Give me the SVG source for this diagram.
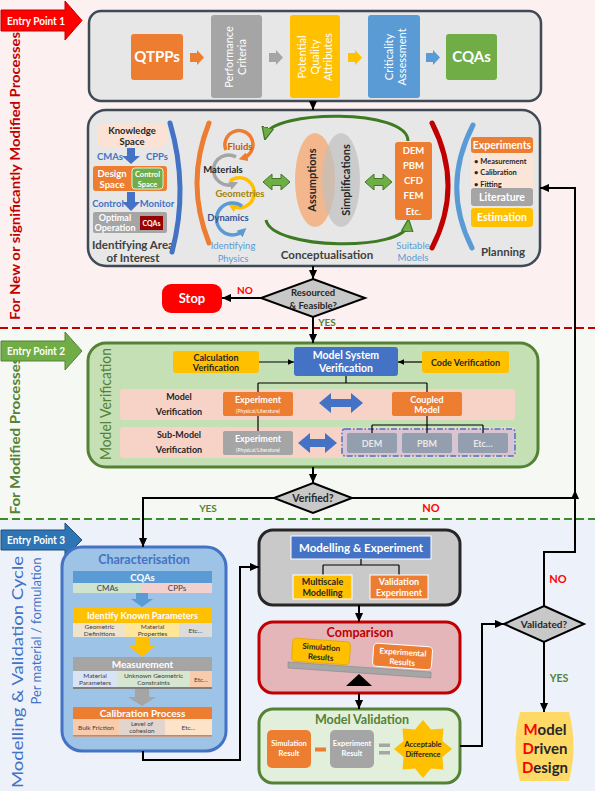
<svg xmlns="http://www.w3.org/2000/svg" width="595" height="791" viewBox="0 0 595 791">
<defs>
<style>
text{font-family:Lato,'Open Sans','Liberation Sans',sans-serif;text-anchor:middle}
.b{font-weight:700}
.w{fill:#fff}
.d{fill:#262626}
.l{text-anchor:start}
.c{stroke:#000;stroke-width:2;fill:none}
.cs{stroke:#000;stroke-width:1.2;fill:none}
.arc{fill:none;stroke-width:5;stroke-linecap:round}
.ph{fill:none;stroke-width:3.5}
</style>
<marker id="ah" viewBox="0 0 10 10" refX="10" refY="5" markerWidth="9" markerHeight="9" markerUnits="userSpaceOnUse" orient="auto"><path d="M0,0.5 L10,5 L0,9.5 Z" fill="#000"/></marker>
<marker id="ahs" viewBox="0 0 10 10" refX="10" refY="5" markerWidth="6" markerHeight="6" markerUnits="userSpaceOnUse" orient="auto"><path d="M0,0.5 L10,5 L0,9.5 Z" fill="#000"/></marker>
<marker id="ahg" viewBox="0 0 10 10" refX="6" refY="5" markerWidth="13" markerHeight="13" markerUnits="userSpaceOnUse" orient="auto"><path d="M0,0.5 L10,5 L0,9.5 Z" fill="#70ad47" stroke="#3d7a22" stroke-width="1"/></marker>
<marker id="mo" viewBox="0 0 10 10" refX="5" refY="5" markerWidth="9" markerHeight="9" markerUnits="userSpaceOnUse" orient="auto"><path d="M0,0 L10,5 L0,10 Z" fill="#ed7d31"/></marker>
<marker id="mg" viewBox="0 0 10 10" refX="5" refY="5" markerWidth="9" markerHeight="9" markerUnits="userSpaceOnUse" orient="auto"><path d="M0,0 L10,5 L0,10 Z" fill="#a5a5a5"/></marker>
<marker id="my" viewBox="0 0 10 10" refX="5" refY="5" markerWidth="9" markerHeight="9" markerUnits="userSpaceOnUse" orient="auto"><path d="M0,0 L10,5 L0,10 Z" fill="#ffc000"/></marker>
<marker id="mb" viewBox="0 0 10 10" refX="5" refY="5" markerWidth="9" markerHeight="9" markerUnits="userSpaceOnUse" orient="auto"><path d="M0,0 L10,5 L0,10 Z" fill="#5b9bd5"/></marker>
</defs>

<!-- section backgrounds -->
<rect x="0" y="0" width="595" height="328" fill="#fdf0f0"/>
<rect x="0" y="328" width="595" height="191" fill="#f6f9f3"/>
<rect x="0" y="519" width="595" height="272" fill="#edf1f9"/>
<line x1="0" y1="328" x2="595" y2="328" stroke="#c00000" stroke-width="2" stroke-dasharray="8 4"/>
<line x1="0" y1="519" x2="595" y2="519" stroke="#3d8b25" stroke-width="2" stroke-dasharray="8 4"/>

<!-- side labels -->
<text class="b" font-size="14" fill="#c00000" transform="translate(20,176) rotate(-90)" textLength="288" lengthAdjust="spacingAndGlyphs">For New or significantly Modified Processes</text>
<text class="b" font-size="14" fill="#548235" transform="translate(20,436) rotate(-90)" textLength="157" lengthAdjust="spacingAndGlyphs">For Modified Processes</text>
<text font-size="16" fill="#4472c4" transform="translate(23,672) rotate(-90)" textLength="232" lengthAdjust="spacingAndGlyphs">Modelling &amp; Validation Cycle</text>
<text font-size="12.5" fill="#4472c4" transform="translate(41,631) rotate(-90)" textLength="147" lengthAdjust="spacingAndGlyphs">Per material / formulation</text>

<!-- entry points -->
<g id="entry1">
<polygon points="1,10 65,10 65,1 82,20.5 65,40 65,31 1,31" fill="#ff0000" stroke="#c00000" stroke-width="1"/>
<text x="36" y="24.5" class="b w" font-size="11" textLength="58" lengthAdjust="spacingAndGlyphs">Entry Point 1</text>
</g>
<g id="entry2">
<polygon points="1,341 65,341 65,332 82,351 65,370 65,361 1,361" fill="#70ad47" stroke="#548235" stroke-width="1"/>
<text x="36" y="355" class="b w" font-size="11" textLength="58" lengthAdjust="spacingAndGlyphs">Entry Point 2</text>
</g>
<g id="entry3">
<polygon points="1,530 65,530 65,523 82,540 65,557 65,550 1,550" fill="#2e75b6" stroke="#1f4e79" stroke-width="1"/>
<text x="36" y="544" class="b w" font-size="11" textLength="58" lengthAdjust="spacingAndGlyphs">Entry Point 3</text>
</g>

<!-- top row -->
<g id="qbd">
<rect x="89" y="11" width="452" height="90" rx="12" fill="#e7e7e7" stroke="#3f4a55" stroke-width="2.5"/>
<g id="qtpps"><rect x="131" y="34" width="52" height="46" rx="3" fill="#ed7d31"/><text x="157" y="62" class="b w" font-size="15">QTPPs</text></g>
<polygon points="190,53 197,53 197,50 204,57.5 197,65 197,62 190,62" fill="#ed7d31"/>
<g id="perf"><rect x="211" y="15" width="51" height="83" rx="3" fill="#a5a5a5"/>
<text class="w" font-size="11" transform="translate(233,57) rotate(-90)">Performance</text>
<text class="w" font-size="11" transform="translate(246,57) rotate(-90)">Criteria</text></g>
<polygon points="269,53 276,53 276,50 283,57.5 276,65 276,62 269,62" fill="#a5a5a5"/>
<g id="pqa"><rect x="290" y="15" width="50" height="83" rx="3" fill="#ffc000"/>
<text class="w" font-size="11" transform="translate(306,57) rotate(-90)">Potential</text>
<text class="w" font-size="11" transform="translate(319,57) rotate(-90)">Quality</text>
<text class="w" font-size="11" transform="translate(332,57) rotate(-90)">Attributes</text></g>
<polygon points="348,53 355,53 355,50 362,57.5 355,65 355,62 348,62" fill="#ffc000"/>
<g id="crit"><rect x="368" y="15" width="52" height="83" rx="3" fill="#5b9bd5"/>
<text class="w" font-size="11" transform="translate(393,57) rotate(-90)">Criticality</text>
<text class="w" font-size="11" transform="translate(406,57) rotate(-90)">Assessment</text></g>
<polygon points="426,53 433,53 433,50 440,57.5 433,65 433,62 426,62" fill="#5b9bd5"/>
<g id="cqas"><rect x="446" y="34" width="51" height="46" rx="3" fill="#70ad47"/><text x="471.5" y="62" class="b w" font-size="15">CQAs</text></g>
</g>

<!-- box 2 -->
<g id="concept">
<rect x="88" y="110" width="452" height="156" rx="18" fill="#e7e7e7" stroke="#3f4a55" stroke-width="2.5"/>
<g id="area">
<rect x="97" y="123" width="70" height="24" rx="6" fill="#fbe2d5"/>
<text x="132" y="134" class="b d" font-size="9.5">Knowledge</text>
<text x="132" y="145" class="b d" font-size="9.5">Space</text>
<polygon points="127,148 135,148 135,156 140,156 131,164 122,156 127,156" fill="#4472c4"/>
<text x="110" y="160" class="b" font-size="9.5" fill="#4472c4">CMAs</text>
<text x="157" y="160" class="b" font-size="9.5" fill="#4472c4">CPPs</text>
<rect x="93" y="166" width="74" height="25" rx="3" fill="#ed7d31"/>
<text x="112" y="177" class="b w" font-size="9.5">Design</text>
<text x="112" y="188" class="b w" font-size="9.5">Space</text>
<rect x="132" y="168" width="31" height="21" rx="3" fill="#70ad47" stroke="#fff" stroke-width="0.8"/>
<text x="147.5" y="177" class="b w" font-size="7.5">Control</text>
<text x="147.5" y="186.5" class="b w" font-size="7.5">Space</text>
<polygon points="127,192 135,192 135,202 140,202 131,211 122,202 127,202" fill="#4472c4"/>
<text x="108" y="207" class="b" font-size="9.5" fill="#4472c4">Control</text>
<text x="157" y="207" class="b" font-size="9.5" fill="#4472c4">Monitor</text>
<rect x="93" y="212" width="74" height="21" rx="2" fill="#a5a5a5"/>
<text x="115" y="221" class="b w" font-size="9">Optimal</text>
<text x="115" y="231" class="b w" font-size="9">Operation</text>
<rect x="140" y="216" width="23" height="14" fill="#990000"/>
<text x="151.5" y="225.5" class="b w" font-size="7">CQAs</text>
<text x="133" y="249" class="b" font-size="11.5" fill="#404040">Identifying Area</text>
<text x="133" y="262" class="b" font-size="11.5" fill="#404040">of Interest</text>
</g>
<path class="arc" stroke="#4472c4" d="M170,123 Q189,188 172,252"/>
<path class="arc" stroke="#ed7d31" d="M209,123 Q185,183 209,243"/>
<g id="physics">
<path class="ph" stroke="#ed7d31" d="M226,150 A14,14 0 1 1 243,158" marker-end="url(#mo)"/>
<path class="ph" stroke="#a5a5a5" d="M236,157 A15,15 0 1 0 234,184" marker-end="url(#mg)"/>
<path class="ph" stroke="#ffc000" d="M230,181 A15,15 0 1 1 232,206" marker-end="url(#my)"/>
<path class="ph" stroke="#5b9bd5" d="M242,206 A16,16 0 1 0 243,231" marker-end="url(#mb)"/>
<text x="240" y="150" class="b" font-size="9.5" fill="#c55a11">Fluids</text>
<text x="223" y="173" class="b d" font-size="9.5">Materials</text>
<text x="240" y="197" class="b" font-size="9.5" fill="#a68000">Geometries</text>
<text x="228" y="221" class="b" font-size="9.5" fill="#2f5597">Dynamics</text>
<text x="233" y="249" font-size="9.5" fill="#5b9bd5">Identifying</text>
<text x="233" y="262" font-size="9.5" fill="#5b9bd5">Physics</text>
</g>
<path d="M408,141 C408,108 272,110 266,135" fill="none" stroke="#3d7a22" stroke-width="3" marker-end="url(#ahg)"/>
<path d="M266,220 C272,250 405,252 408,224" fill="none" stroke="#3d7a22" stroke-width="3" marker-end="url(#ahg)"/>
<polygon points="263,182 272,174 272,178.5 281,178.5 281,174 290,182 281,190 281,185.5 272,185.5 272,190" fill="#70ad47" stroke="#3d7a22" stroke-width="1"/>
<polygon points="365,182 374,174 374,178.5 383,178.5 383,174 392,182 383,190 383,185.5 374,185.5 374,190" fill="#70ad47" stroke="#3d7a22" stroke-width="1"/>
<ellipse cx="315" cy="180" rx="20" ry="47" fill="#f4b183" opacity="0.9"/>
<ellipse cx="341" cy="180" rx="19" ry="47" fill="#bfbfbf" opacity="0.7"/>
<text class="b d" font-size="11" transform="translate(316,180) rotate(-90)">Assumptions</text>
<text class="b d" font-size="11" transform="translate(350,180) rotate(-90)">Simplifications</text>
<rect x="395" y="142" width="37" height="78" rx="3" fill="#ed7d31"/>
<text x="413.5" y="153.5" class="b w" font-size="9.5">DEM</text>
<text x="413.5" y="169" class="b w" font-size="9.5">PBM</text>
<text x="413.5" y="184" class="b w" font-size="9.5">CFD</text>
<text x="413.5" y="199" class="b w" font-size="9.5">FEM</text>
<text x="413.5" y="214.5" class="b w" font-size="9.5">Etc.</text>
<text x="327" y="259" class="b" font-size="11.5" fill="#404040">Conceptualisation</text>
<text x="413" y="249" font-size="9.5" fill="#5b9bd5">Suitable</text>
<text x="413" y="261" font-size="9.5" fill="#5b9bd5">Models</text>
<path class="arc" stroke="#c00000" d="M432,123 Q464,186 432,248"/>
<path class="arc" stroke="#5b9bd5" d="M473,125 Q441,187 472,248"/>
<g id="planning">
<rect x="471" y="137" width="62" height="16" rx="3" fill="#ed7d31"/>
<text x="502" y="149" class="b w" font-size="10.5">Experiments</text>
<rect x="471" y="153" width="62" height="35" fill="#fbe5d6"/>
<text x="474" y="163.5" class="b d l" font-size="7.5">• Measurement</text>
<text x="474" y="175" class="b d l" font-size="7.5">• Calibration</text>
<text x="474" y="186.5" class="b d l" font-size="7.5">• Fitting</text>
<rect x="471" y="188" width="62" height="18" rx="3" fill="#a5a5a5"/>
<text x="502" y="201" class="b w" font-size="10.5">Literature</text>
<rect x="471" y="208" width="62" height="19" rx="3" fill="#ffc000"/>
<text x="502" y="221" class="b w" font-size="10.5">Estimation</text>
<text x="503" y="256" class="b" font-size="11.5" fill="#404040">Planning</text>
</g>
</g>

<!-- decision 1 -->
<g id="resourced">
<polygon points="313,279 365,298 313,317 261,298" fill="#c8c8c8" stroke="#000" stroke-width="2"/>
<text x="313" y="296" class="b d" font-size="9.5">Resourced</text>
<text x="313" y="309" class="b d" font-size="9.5">&amp; Feasible?</text>
</g>
<g id="stop">
<rect x="162" y="284" width="60" height="29" rx="9" fill="#ff0000"/>
<text x="192" y="303" class="b w" font-size="13">Stop</text>
</g>

<!-- model verification -->
<g id="modelverif">
<rect x="88" y="343" width="450" height="124" rx="18" fill="#c5e0b4" stroke="#548235" stroke-width="3"/>
<text font-size="16" fill="#548235" transform="translate(111,404) rotate(-90)" textLength="112" lengthAdjust="spacingAndGlyphs">Model Verification</text>
<g id="calcver"><rect x="173" y="351" width="86" height="22" rx="3" fill="#ffc000"/>
<text x="216" y="361" class="b d" font-size="9">Calculation</text>
<text x="216" y="371" class="b d" font-size="9">Verification</text></g>
<g id="msv"><rect x="294" y="347" width="104" height="29" rx="3" fill="#4472c4"/>
<text x="346" y="359" class="b w" font-size="10.5">Model System</text>
<text x="346" y="371.5" class="b w" font-size="10.5">Verification</text></g>
<g id="codever"><rect x="422" y="351" width="87" height="22" rx="3" fill="#ffc000"/>
<text x="465.5" y="365.5" class="b d" font-size="9">Code Verification</text></g>
<rect x="120" y="389" width="395" height="31" rx="3" fill="#f6d3c6"/>
<rect x="120" y="427" width="395" height="31" rx="3" fill="#f6d3c6"/>
<text x="179" y="400" class="b d" font-size="9">Model</text>
<text x="179" y="415" class="b d" font-size="9">Verification</text>
<text x="179" y="438" class="b d" font-size="9">Sub-Model</text>
<text x="179" y="453" class="b d" font-size="9">Verification</text>
<g id="exp1"><rect x="223" y="392" width="70" height="24" rx="2" fill="#ed7d31"/>
<text x="258" y="403" class="b w" font-size="9">Experiment</text>
<text x="258" y="412.5" class="w" font-size="5">(Physical/Literature)</text></g>
<polygon points="319,403 331,393 331,399 351,399 351,393 363,403 351,413 351,407 331,407 331,413" fill="#4472c4"/>
<g id="coupled"><rect x="392" y="392" width="70" height="24" rx="2" fill="#ed7d31"/>
<text x="427" y="402.5" class="b w" font-size="9">Coupled</text>
<text x="427" y="413" class="b w" font-size="9">Model</text></g>
<g id="exp2"><rect x="223" y="431" width="70" height="24" rx="2" fill="#a5a5a5"/>
<text x="258" y="442" class="b w" font-size="9">Experiment</text>
<text x="258" y="451.5" class="w" font-size="5">(Physical/Literature)</text></g>
<polygon points="298,443 310,433 310,439 325,439 325,433 337,443 325,453 325,447 310,447 310,453" fill="#4472c4"/>
<rect x="342" y="429" width="173" height="27" rx="3" fill="#d8c4d3" stroke="#4472c4" stroke-width="1.5" stroke-dasharray="6 2 1.5 2"/>
<g id="subdem"><rect x="347" y="433" width="50" height="20" rx="2" fill="#939eae"/><text x="372" y="446.5" class="b" font-size="9" fill="#e8e8e8">DEM</text></g>
<g id="subpbm"><rect x="402" y="433" width="50" height="20" rx="2" fill="#939eae"/><text x="427" y="446.5" class="b" font-size="9" fill="#e8e8e8">PBM</text></g>
<g id="subetc"><rect x="458" y="433" width="50" height="20" rx="2" fill="#939eae"/><text x="483" y="446.5" class="b" font-size="9" fill="#e8e8e8">Etc…</text></g>
</g>

<g id="verified">
<polygon points="313,483 352,498 313,513 274,498" fill="#c8c8c8" stroke="#000" stroke-width="2"/>
<text x="313" y="502" class="b d" font-size="10.5">Verified?</text>
</g>

<!-- characterisation -->
<g id="character">
<rect x="62" y="547" width="164" height="204" rx="20" fill="#9dc3e6" stroke="#4472c4" stroke-width="3"/>
<text x="144" y="564" class="b" font-size="12.5" fill="#4472c4">Characterisation</text>
<rect x="73" y="571" width="139" height="12" fill="#5b9bd5"/>
<text x="142.5" y="580.5" class="b w" font-size="9.5">CQAs</text>
<rect x="73" y="583" width="69" height="10" fill="#cfe3cf"/>
<rect x="142" y="583" width="70" height="10" fill="#f2d0cf"/>
<text x="107.5" y="591" font-size="8" fill="#404040">CMAs</text>
<text x="177" y="591" font-size="8" fill="#404040">CPPs</text>
<polygon points="136,593 148,593 148,599 153,599 142,607 131,599 136,599" fill="#5b9bd5"/>
<rect x="73" y="607" width="139" height="16" fill="#ffc000"/>
<text x="142.5" y="619" class="b w" font-size="10" textLength="111" lengthAdjust="spacingAndGlyphs">Identify Known Parameters</text>
<rect x="73" y="623" width="53" height="14" fill="#efe3cc"/>
<rect x="126" y="623" width="53" height="14" fill="#ffe699"/>
<rect x="179" y="623" width="33" height="14" fill="#dcdcdc"/>
<text x="99.5" y="629" font-size="6.5" fill="#404040">Geometric</text>
<text x="99.5" y="636" font-size="6.5" fill="#404040">Definitions</text>
<text x="152.5" y="629" font-size="6.5" fill="#404040">Material</text>
<text x="152.5" y="636" font-size="6.5" fill="#404040">Properties</text>
<text x="195.5" y="632.5" font-size="6.5" fill="#404040">Etc…</text>
<polygon points="135,637 149,637 149,646 155,646 142,657 129,646 135,646" fill="#ffc000"/>
<rect x="73" y="657" width="139" height="14" fill="#a5a5a5"/>
<text x="142.5" y="668" class="b w" font-size="10">Measurement</text>
<rect x="73" y="671" width="44" height="16" fill="#dae3f3"/>
<rect x="117" y="671" width="73" height="16" fill="#d6e6d0"/>
<rect x="190" y="671" width="22" height="16" fill="#f8cbad"/>
<rect x="73" y="687" width="139" height="2" fill="#7f7f7f"/>
<text x="95" y="678" font-size="6.5" fill="#404040">Material</text>
<text x="95" y="685" font-size="6.5" fill="#404040">Parameters</text>
<text x="153.5" y="678" font-size="6.5" fill="#404040">Unknown Geometric</text>
<text x="153.5" y="685" font-size="6.5" fill="#404040">Constraints</text>
<text x="201" y="682" font-size="6.5" fill="#404040">Etc…</text>
<polygon points="135,689 149,689 149,697 156,697 142,706 128,697 135,697" fill="#a5a5a5"/>
<rect x="73" y="707" width="139" height="12" fill="#ed7d31"/>
<text x="142.5" y="717" class="b w" font-size="10">Calibration Process</text>
<rect x="73" y="719" width="46" height="16" fill="#f8cbad"/>
<rect x="119" y="719" width="46" height="16" fill="#e2d5ce"/>
<rect x="165" y="719" width="47" height="16" fill="#fde3c8"/>
<rect x="73" y="735" width="139" height="1.5" fill="#ed7d31"/>
<text x="96" y="730" font-size="6.5" fill="#404040">Bulk Friction</text>
<text x="142" y="726" font-size="6.5" fill="#404040">Level of</text>
<text x="142" y="733" font-size="6.5" fill="#404040">cohesion</text>
<text x="188.5" y="730" font-size="6.5" fill="#404040">Etc…</text>
</g>

<!-- modelling & experiment -->
<g id="modexp">
<rect x="259" y="530" width="201" height="75" rx="14" fill="#c9c9c9" stroke="#262626" stroke-width="3"/>
<rect x="291" y="536" width="140" height="23" fill="#4472c4" stroke="#fff" stroke-width="1"/>
<text x="361" y="552" class="b w" font-size="11.5">Modelling &amp; Experiment</text>
<path class="cs" stroke-width="1.5" d="M361,559 V565 M323,565 H399 M323,565 V575 M399,565 V575"/>
<rect x="293" y="575" width="59" height="24" fill="#ffc000" stroke="#fff" stroke-width="1"/>
<text x="322.5" y="585" class="b d" font-size="9">Multiscale</text>
<text x="322.5" y="596" class="b d" font-size="9">Modelling</text>
<rect x="370" y="575" width="58" height="24" fill="#ed7d31" stroke="#fff" stroke-width="1"/>
<text x="399" y="585" class="b w" font-size="9">Validation</text>
<text x="399" y="596" class="b w" font-size="9">Experiment</text>
</g>

<g id="comparison">
<rect x="259" y="622" width="201" height="71" rx="14" fill="#e4b6ba" stroke="#c00000" stroke-width="3"/>
<text x="360" y="637" class="b" font-size="12.5" fill="#c00000">Comparison</text>
<polygon points="288,662 431,672 431,678 288,668" fill="#a6a6a6" stroke="#7f7f7f" stroke-width="0.5"/>
<g transform="rotate(4,321,652)">
<rect x="292" y="640" width="58" height="23" rx="4" fill="#ffc000" stroke="#e0a800" stroke-width="0.8"/>
<text x="321" y="650" class="b d" font-size="8">Simulation</text>
<text x="321" y="660" class="b d" font-size="8">Results</text>
</g>
<g transform="rotate(4,402,657)">
<rect x="373" y="645" width="59" height="23" rx="4" fill="#ed7d31" stroke="#fff" stroke-width="1"/>
<text x="402.5" y="655" class="b w" font-size="8">Experimental</text>
<text x="402.5" y="665" class="b w" font-size="8">Results</text>
</g>
<polygon points="359,674 372,686 346,686" fill="#000"/>
</g>

<g id="modelvalid">
<rect x="259" y="709" width="201" height="74" rx="14" fill="#e2efda" stroke="#548235" stroke-width="3"/>
<text x="362" y="724" class="b" font-size="12.5" fill="#548235">Model Validation</text>
<rect x="267" y="730" width="44" height="38" rx="5" fill="#ed7d31"/>
<text x="289" y="746" class="b w" font-size="7.5">Simulation</text>
<text x="289" y="756" class="b w" font-size="7.5">Result</text>
<rect x="315" y="747.5" width="11" height="4" fill="#ed7d31"/>
<rect x="330" y="730" width="44" height="38" rx="5" fill="#a5a5a5"/>
<text x="352" y="746" class="b w" font-size="7.5">Experiment</text>
<text x="352" y="756" class="b w" font-size="7.5">Result</text>
<rect x="379" y="743.5" width="11" height="3.5" fill="#a5a5a5"/>
<rect x="379" y="751" width="11" height="3.5" fill="#a5a5a5"/>
<polygon points="452,749 442.4,757 443.5,769.5 431,768.4 423,778 415,768.4 402.5,769.5 403.6,757 394,749 403.6,741 402.5,728.5 415,729.6 423,720 431,729.6 443.5,728.5 442.4,741" fill="#ffc000"/>
<text x="423" y="747" class="b d" font-size="7.5">Acceptable</text>
<text x="423" y="757" class="b d" font-size="7.5">Difference</text>
</g>

<g id="validated">
<polygon points="544,606 584,624 544,642 504,624" fill="#c8c8c8" stroke="#000" stroke-width="2"/>
<text x="544" y="628" class="b d" font-size="10">Validated?</text>
</g>

<g id="mdd">
<path d="M520,712 H569 Q578,746 569,781 H520 Q511,746 520,712 Z" fill="#ffd966"/>
<text x="545" y="735" class="b" font-size="15" fill="#262626"><tspan fill="#ff0000">M</tspan>odel</text>
<text x="545" y="754" class="b" font-size="15" fill="#262626"><tspan fill="#ff0000">D</tspan>riven</text>
<text x="545" y="773" class="b" font-size="15" fill="#262626"><tspan fill="#ff0000">D</tspan>esign</text>
</g>

<!-- connectors -->
<g id="connectors">
<path class="c" d="M313,101 V110" marker-end="url(#ah)"/>
<path class="c" d="M313,266 V279" marker-end="url(#ah)"/>
<path class="c" d="M261,298 H222" marker-end="url(#ah)"/>
<path class="c" d="M313,317 V343" marker-end="url(#ah)"/>
<path class="cs" d="M259,362 H294" marker-end="url(#ahs)"/>
<path class="cs" d="M422,362 H398" marker-end="url(#ahs)"/>
<path class="cs" d="M346,376 V383 M258,383 H427 M258,383 V392 M427,383 V392"/>
<path class="cs" d="M258,416 V431"/>
<path class="cs" d="M427,416 V425 M372,425 H483 M372,425 V433 M427,425 V433 M483,425 V433"/>
<path class="c" d="M313,467 V483" marker-end="url(#ah)"/>
<path class="c" d="M274,498 H143 V547" marker-end="url(#ah)"/>
<path class="c" d="M352,498 H575 V490" marker-end="url(#ah)"/>
<path class="c" d="M544,606 V552 H575 V188 H540" marker-end="url(#ah)"/>
<path class="c" d="M143,751 V760 H240 V567 H259" marker-end="url(#ah)"/>
<path class="c" d="M359,605 V622" marker-end="url(#ah)"/>
<path class="c" d="M359,693 V709" marker-end="url(#ah)"/>
<path class="c" d="M460,746 H482 V624 H504" marker-end="url(#ah)"/>
<path class="c" d="M544,642 V712" marker-end="url(#ah)"/>
<text x="245" y="294" class="b" font-size="10" fill="#ff0000">NO</text>
<text x="327" y="326" class="b" font-size="10" fill="#548235">YES</text>
<text x="208" y="512" class="b" font-size="10" fill="#548235">YES</text>
<text x="431" y="512" class="b" font-size="11" fill="#ff0000">NO</text>
<text x="558" y="583" class="b" font-size="11" fill="#ff0000">NO</text>
<text x="559" y="682" class="b" font-size="10.5" fill="#548235">YES</text>
</g>
</svg>
